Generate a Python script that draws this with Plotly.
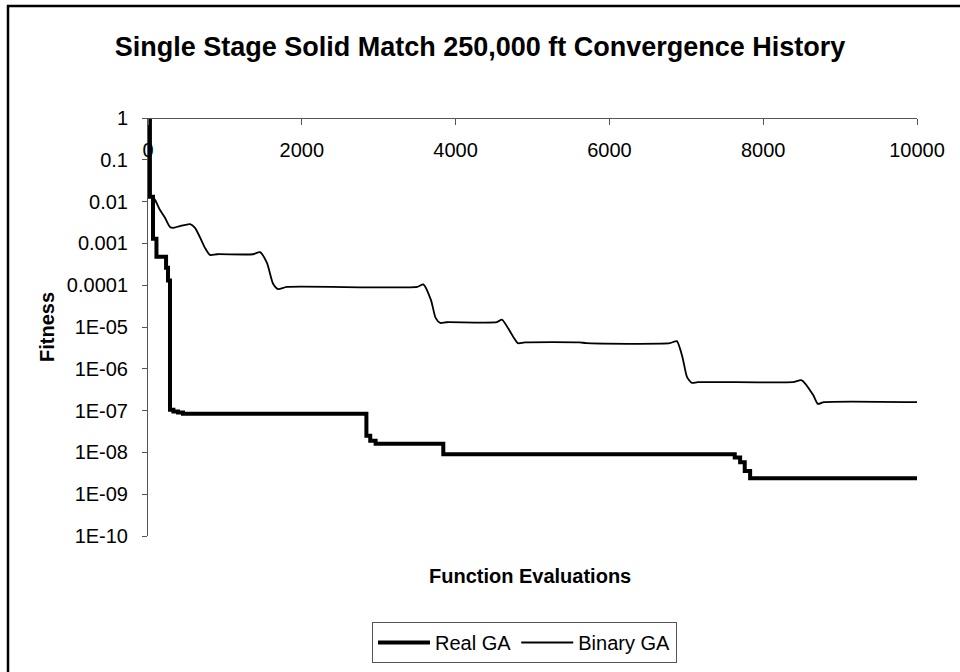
import plotly.graph_objects as go

# ---- data ----
real_x = [0, 25, 65, 110, 235, 260, 286, 330, 390, 455, 2840, 2890, 2960, 3840,
          7630, 7700, 7760, 7830, 10000]
real_y = [1, 0.013, 0.0013, 0.00048, 0.00026, 0.00013, 1.05e-7, 9.5e-8, 9e-8, 8.4e-8,
          2.5e-8, 1.9e-8, 1.6e-8, 9e-9, 7.6e-9, 5.8e-9, 3.6e-9, 2.4e-9, 2.4e-9]

bin_x = [20, 91, 156, 221, 286, 325, 416, 546, 611, 676, 741, 806, 897,
         1365, 1456, 1547, 1625, 1690, 1807,
         3500, 3580, 3680, 3740, 3800, 3880,
         4537, 4602, 4750, 4810, 4900,
         5616, 5700, 6786, 6877, 6950, 7010, 7072, 7150,
         8385, 8502, 8650, 8710, 8790, 10000]
bin_y = [0.0151, 0.0110, 0.0063, 0.0041, 0.00246, 0.00235, 0.0026, 0.0029, 0.00235, 0.0014,
         0.00078, 0.00053, 0.00055,
         0.00055, 0.00062, 0.00034, 0.00011, 8.1e-5, 9.1e-5,
         9.1e-5, 1.05e-4, 4.4e-5, 1.65e-5, 1.25e-5, 1.3e-5,
         1.3e-5, 1.5e-5, 5.8e-6, 4.1e-6, 4.3e-6,
         4.3e-6, 4.1e-6, 4.1e-6, 4.6e-6, 1.9e-6, 6.3e-7, 4.6e-7, 4.8e-7,
         4.8e-7, 5.3e-7, 2.35e-7, 1.45e-7, 1.6e-7, 1.6e-7]

y_tickvals = [1, 0.1, 0.01, 0.001, 0.0001, 1e-5, 1e-6, 1e-7, 1e-8, 1e-9, 1e-10]
y_ticktext = ["1", "0.1", "0.01", "0.001", "0.0001", "1E-05", "1E-06", "1E-07",
              "1E-08", "1E-09", "1E-10"]
x_tickvals = [0, 2000, 4000, 6000, 8000, 10000]
x_ticktext = ["0", "2000", "4000", "6000", "8000", "10000"]

title_text = "Single Stage Solid Match 250,000 ft Convergence History"
x_title = "Function Evaluations"
y_title = "Fitness"

FONT = "Liberation Sans, Arial, sans-serif"

fig = go.Figure()
fig.add_trace(go.Scatter(x=real_x, y=real_y, mode="lines", name="Real GA",
                         line=dict(color="black", width=4, shape="hv")))
fig.add_trace(go.Scatter(x=bin_x, y=bin_y, mode="lines", name="Binary GA",
                         line=dict(color="black", width=1.8, shape="spline", smoothing=0.6)))

L, R, T, B = 148, 917, 118, 536
W, H = 960, 672

fig.update_layout(
    width=W, height=H,
    margin=dict(l=L, r=W - R, t=T, b=H - B, pad=0, autoexpand=False),
    paper_bgcolor="white", plot_bgcolor="white",
    font=dict(family=FONT, size=20, color="black"),
    showlegend=True,
    legend=dict(orientation="h", x=(372 - L) / (R - L), y=(B - 622) / (B - T),
                xanchor="left", yanchor="top",
                bordercolor="#555555", borderwidth=1,
                font=dict(family=FONT, size=20, color="black"),
                itemwidth=52, tracegroupgap=0),
    xaxis=dict(range=[0, 10000], side="bottom", anchor="free", position=1.0,
               showgrid=False, zeroline=False,
               showline=True, linecolor="#555555", linewidth=1,
               ticks="outside", ticklen=6, tickcolor="#555555",
               tickvals=x_tickvals, ticktext=x_ticktext,
               ticklabelstandoff=8,
               tickfont=dict(family=FONT, size=20, color="black", weight="normal")),
    yaxis=dict(type="log", range=[-10, 0], showgrid=False, zeroline=False,
               showline=True, linecolor="#555555", linewidth=1,
               ticks="outside", ticklen=5, tickcolor="#555555",
               tickvals=y_tickvals, ticktext=y_ticktext,
               ticklabelstandoff=10,
               tickfont=dict(family=FONT, size=20, color="black", weight="normal"),
               title=dict(text="<b>" + y_title + "</b>", standoff=6,
                          font=dict(family=FONT, size=20, color="black"))),
    title=dict(text="<b>" + title_text + "</b>", x=480 / W, xanchor="center",
               y=1 - 47 / H, yanchor="middle",
               font=dict(family=FONT, size=27, color="black")),
    annotations=[dict(text="<b>" + x_title + "</b>", xref="paper", yref="paper",
                      x=(530 - L) / (R - L), y=(B - 576) / (B - T),
                      xanchor="center", yanchor="middle", showarrow=False,
                      font=dict(family=FONT, size=20, color="black"))],
    shapes=[dict(type="rect", xref="paper", yref="paper",
                 x0=(8 - L) / (R - L), x1=(990 - L) / (R - L),
                 y0=(B - 700) / (B - T), y1=(B - 6) / (B - T),
                 line=dict(color="black", width=2.5), layer="below")],
)

fig.write_html("out.html")
